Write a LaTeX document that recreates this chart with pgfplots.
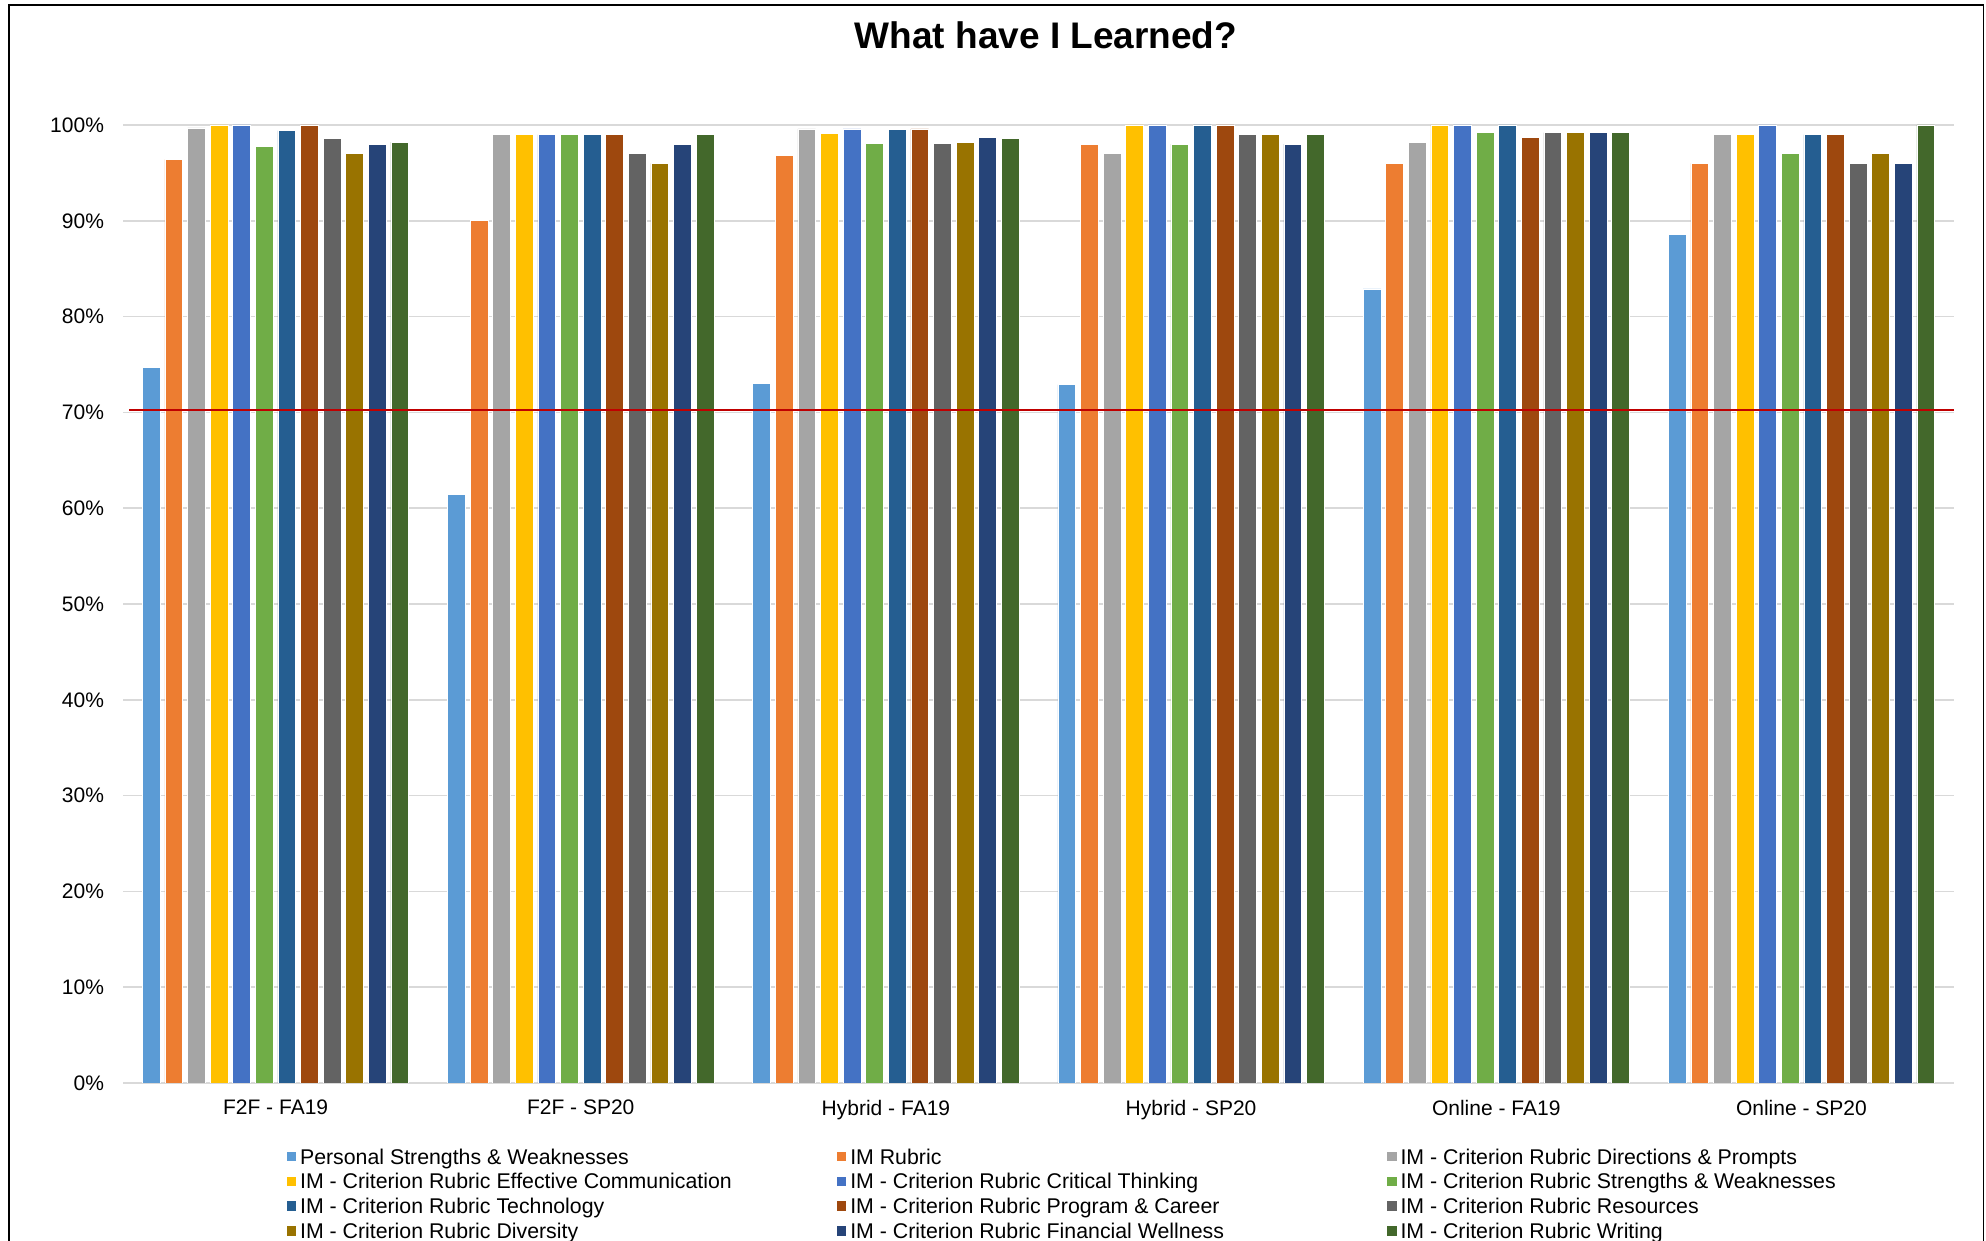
\documentclass[border=0pt]{standalone}
\usepackage{fontspec}
\setmainfont{Liberation Sans}
\usepackage{pgfplots}
\usepackage{pgfplotstable}
\pgfplotsset{compat=1.18}
\definecolor{c1}{HTML}{5B9BD5}
\definecolor{c2}{HTML}{ED7D31}
\definecolor{c3}{HTML}{A5A5A5}
\definecolor{c4}{HTML}{FFC000}
\definecolor{c5}{HTML}{4472C4}
\definecolor{c6}{HTML}{70AD47}
\definecolor{c7}{HTML}{255E91}
\definecolor{c8}{HTML}{9E480E}
\definecolor{c9}{HTML}{636363}
\definecolor{c10}{HTML}{997300}
\definecolor{c11}{HTML}{264478}
\definecolor{c12}{HTML}{43682B}
\definecolor{gridgray}{HTML}{D9D9D9}
\definecolor{target}{HTML}{C00000}
\pgfplotstableread{
x  s1   s2   s3   s4    s5    s6   s7    s8    s9   s10  s11  s12
0  74.7 96.4 99.7 100.0 100.0 97.8 99.4  100.0 98.6 97.0 98.0 98.2
1  61.4 90.0 99.0 99.0  99.0  99.0 99.0  99.0  97.0 96.0 98.0 99.0
2  73.0 96.8 99.6 99.1  99.6  98.1 99.5  99.6  98.1 98.2 98.7 98.6
3  72.9 98.0 97.0 100.0 100.0 98.0 100.0 100.0 99.0 99.0 98.0 99.0
4  82.9 96.0 98.2 100.0 100.0 99.2 100.0 98.7  99.2 99.2 99.2 99.2
5  88.6 96.0 99.0 99.0  100.0 97.0 99.0  99.0  96.0 97.0 96.0 100.0
}\datatable
\newcommand{\lbox}[1]{\makebox[266.3pt][l]{#1}}
\begin{document}
\begin{tikzpicture}[x=1pt,y=1pt]
\useasboundingbox (0,0) rectangle (993,620.5);
\clip (0,0) rectangle (993,620.5);
\draw[line width=0.7pt, black] (4.5,-10) rectangle (991.8,618);
\node[font=\fontsize{18.5}{22}\selectfont\bfseries] at (523,602.75) {What have I Learned?};
\begin{axis}[
  at={(61.5pt,79pt)}, anchor=south west,
  scale only axis, width=915.5pt, height=479pt,
  ybar=2.4pt, bar width=8.9pt,
  legend image code/.code={\fill[#1,draw=none] (0pt,-1.55pt) rectangle (4.8pt,3.25pt);},
  xmin=-0.5, xmax=5.5, ymin=0, ymax=100,
  xtick={0,1,2,3,4,5},
  xticklabels={F2F - FA19, F2F - SP20, Hybrid - FA19, Hybrid - SP20, Online - FA19, Online - SP20},
  ytick={0,10,...,100},
  yticklabel={\pgfmathprintnumber{\tick}\%},
  /pgf/number format/assume math mode=true,
  tick style={draw=none},
  axis line style={draw=none},
  ymajorgrids, grid style={gridgray, line width=0.8pt},
  ticklabel style={font=\fontsize{10.5}{12}\selectfont},
  xticklabel style={yshift=-0.8pt},
  yticklabel style={xshift=-6pt},
  legend columns=3,
  legend cell align=left,
  legend style={at={(0.0858,-0.0610)}, anchor=north west, draw=none, fill=none,
    inner xsep=3pt, inner ysep=2pt, font=\fontsize{10.65}{12}\selectfont,
    nodes={inner xsep=2pt, inner ysep=1.5pt, text height=7.6pt, text depth=1.8pt}},
  every axis plot/.append style={draw=white, line width=0.3pt},
]
\addplot[fill=c1] table[x=x,y=s1]{\datatable}; \addlegendentry{\lbox{Personal Strengths \& Weaknesses}}
\addplot[fill=c2] table[x=x,y=s2]{\datatable}; \addlegendentry{\lbox{IM Rubric}}
\addplot[fill=c3] table[x=x,y=s3]{\datatable}; \addlegendentry{IM - Criterion Rubric Directions \& Prompts}
\addplot[fill=c4] table[x=x,y=s4]{\datatable}; \addlegendentry{\lbox{IM - Criterion Rubric Effective Communication}}
\addplot[fill=c5] table[x=x,y=s5]{\datatable}; \addlegendentry{\lbox{IM - Criterion Rubric Critical Thinking}}
\addplot[fill=c6] table[x=x,y=s6]{\datatable}; \addlegendentry{IM - Criterion Rubric Strengths \& Weaknesses}
\addplot[fill=c7] table[x=x,y=s7]{\datatable}; \addlegendentry{\lbox{IM - Criterion Rubric Technology}}
\addplot[fill=c8] table[x=x,y=s8]{\datatable}; \addlegendentry{\lbox{IM - Criterion Rubric Program \& Career}}
\addplot[fill=c9] table[x=x,y=s9]{\datatable}; \addlegendentry{IM - Criterion Rubric Resources}
\addplot[fill=c10] table[x=x,y=s10]{\datatable}; \addlegendentry{\lbox{IM - Criterion Rubric Diversity}}
\addplot[fill=c11] table[x=x,y=s11]{\datatable}; \addlegendentry{\lbox{IM - Criterion Rubric Financial Wellness}}
\addplot[fill=c12] table[x=x,y=s12]{\datatable}; \addlegendentry{IM - Criterion Rubric Writing}
\addplot[sharp plot, draw=target, line width=1pt, forget plot] coordinates {(-0.48,70.2) (5.5,70.2)};
\end{axis}
\end{tikzpicture}
\end{document}
